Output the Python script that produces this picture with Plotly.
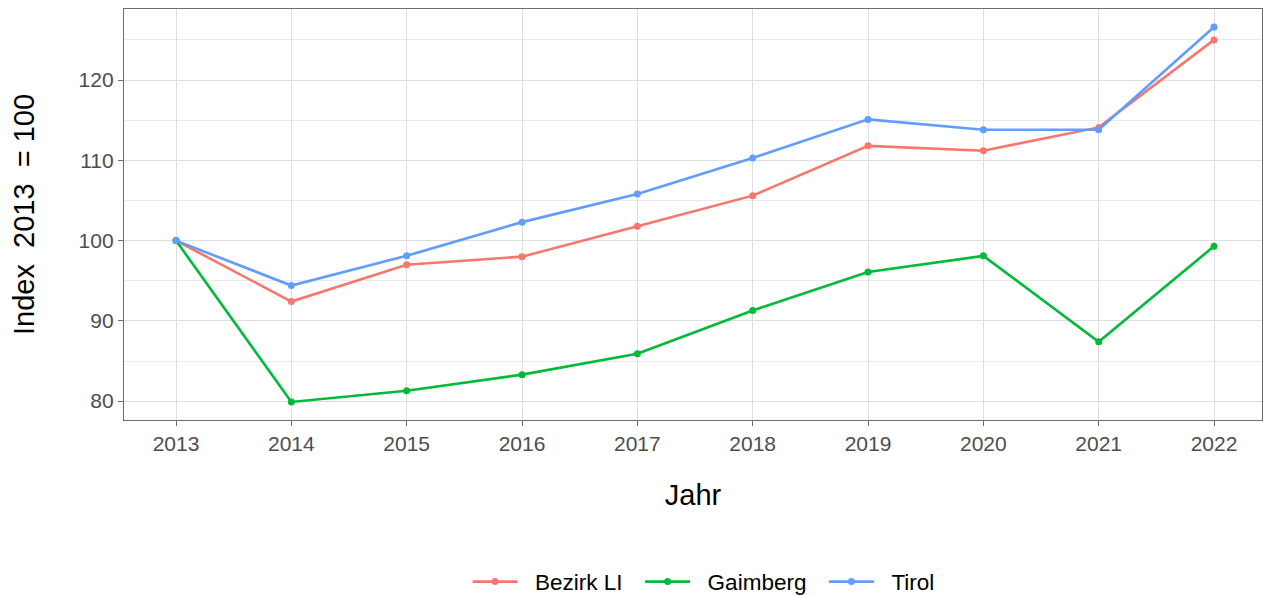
import plotly.graph_objects as go

years = [2013, 2014, 2015, 2016, 2017, 2018, 2019, 2020, 2021, 2022]
bezirk_li = [100.0, 92.4, 97.0, 98.0, 101.8, 105.6, 111.8, 111.2, 114.1, 125.0]
gaimberg = [100.0, 79.9, 81.3, 83.3, 85.9, 91.3, 96.1, 98.1, 87.4, 99.3]
tirol = [100.0, 94.4, 98.1, 102.3, 105.8, 110.3, 115.1, 113.8, 113.8, 126.6]
y_ticks = [80, 90, 100, 110, 120]
y_minor = [85, 95, 105, 115, 125]

series = [("Bezirk LI", bezirk_li, "#F8766D"),
          ("Gaimberg", gaimberg, "#00BA38"),
          ("Tirol", tirol, "#619CFF")]

fig = go.Figure()
for name, vals, col in series:
    fig.add_trace(go.Scatter(x=years, y=vals,
                             name="\u00a0\u00a0" + name + "\u00a0\u00a0",
                             mode="lines+markers",
                             line=dict(color=col, width=2.6),
                             marker=dict(color=col, size=7)))

font_family = "Liberation Sans, Arial, sans-serif"
fig.update_layout(
    width=1263, height=596,
    margin=dict(l=124, r=1, t=9, b=176),
    paper_bgcolor="white", plot_bgcolor="white",
    font=dict(family=font_family, color="black"),
    showlegend=True,
    legend=dict(orientation="h", xanchor="center", x=0.515, yref="container",
                y=0.0235, yanchor="middle", font=dict(size=22.5, color="black"),
                itemwidth=45),
)
fig.update_xaxes(
    range=[2012.549, 2022.416], tickvals=years, ticktext=[str(y) for y in years],
    showgrid=True, gridcolor="#DEDEDE", gridwidth=1,
    showline=True, linecolor="#6E6E6E", linewidth=1.3, mirror=True,
    ticks="outside", ticklen=5, tickcolor="#6E6E6E",
    tickfont=dict(size=21, color="#4D4D4D"),
    title=dict(text="Jahr", font=dict(size=29, color="black"), standoff=30),
    zeroline=False, automargin=False,
)
fig.update_yaxes(
    range=[77.65, 128.85], tickvals=y_ticks,
    showgrid=True, gridcolor="#DEDEDE", gridwidth=1,
    minor=dict(tickvals=y_minor, showgrid=True, gridcolor="#EBEBEB", gridwidth=1, ticks=""),
    showline=True, linecolor="#6E6E6E", linewidth=1.3, mirror=True,
    ticks="outside", ticklen=5, tickcolor="#6E6E6E",
    tickfont=dict(size=21, color="#4D4D4D"),
    title=dict(text="Index\u00a0 2013\u00a0 = 100", font=dict(size=29, color="black"), standoff=35),
    zeroline=False, automargin=False,
)

fig.write_html("out.html", config={"displayModeBar": False},
               post_script="document.body.style.margin='0';document.body.style.overflow='hidden';")
